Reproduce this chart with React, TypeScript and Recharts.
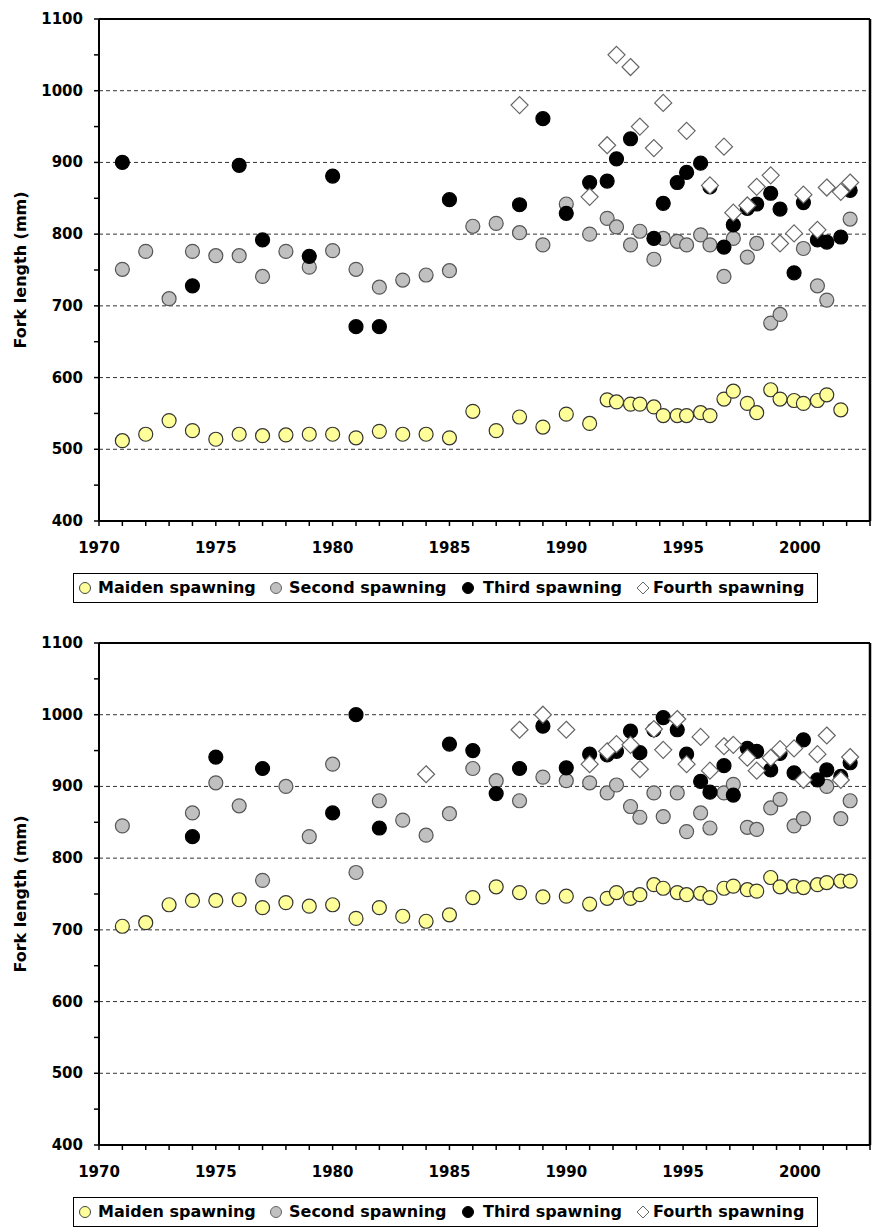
import { ScatterChart, Scatter, XAxis, YAxis, ReferenceLine } from "recharts";

// x positions (years) of every sampling slot; from 1991 on there are two per year
const slots = [
  1971, 1972, 1973, 1974, 1975, 1976, 1977, 1978, 1979, 1980,
  1981, 1982, 1983, 1984, 1985, 1986, 1987, 1988, 1989, 1990, 1991,
  1991.75, 1992.15, 1992.75, 1993.15, 1993.75, 1994.15, 1994.75, 1995.15,
  1995.75, 1996.15, 1996.75, 1997.15, 1997.75, 1998.15, 1998.75, 1999.15,
  1999.75, 2000.15, 2000.75, 2001.15, 2001.75, 2002.15,
];

const _ = null;

// upper panel
const topMaiden = [
  512, 521, 540, 526, 514, 521, 519, 520, 521, 521,
  516, 525, 521, 521, 516, 553, 526, 545, 531, 549, 536,
  569, 566, 563, 563, 559, 547, 547, 547,
  551, 547, 570, 581, 564, 551, 583, 570,
  568, 564, 568, 576, 555, _,
];
const topSecond = [
  751, 776, 710, 776, 770, 770, 741, 776, 754, 777,
  751, 726, 736, 743, 749, 811, 815, 802, 785, 842, 800,
  822, 810, 785, 804, 765, 794, 790, 785,
  799, 785, 741, 794, 768, 787, 676, 688,
  _, 780, 728, 708, _, 821,
];
const topThird = [
  900, _, _, 728, _, 896, 792, _, 769, 881,
  671, 671, _, _, 848, _, _, 841, 961, 829, 872,
  874, 905, 933, _, 794, 843, 872, 886,
  899, 866, 782, 813, 836, 842, 857, 835,
  746, 844, 792, 789, 796, 861,
];
const topFourth = [
  _, _, _, _, _, _, _, _, _, _,
  _, _, _, _, _, _, _, 980, _, _, 852,
  924, 1050, 1033, 950, 920, 983, _, 944,
  _, 868, 922, 830, 840, 866, 882, 787,
  801, 855, 806, 865, 859, 872,
];

// lower panel
const botMaiden = [
  705, 710, 735, 741, 741, 742, 731, 738, 733, 735,
  716, 731, 719, 712, 721, 745, 760, 752, 746, 747, 736,
  744, 752, 744, 749, 763, 758, 752, 749,
  751, 745, 758, 761, 756, 754, 773, 760,
  761, 759, 763, 766, 768, 768,
];
const botSecond = [
  845, _, _, 863, 905, 873, 769, 900, 830, 931,
  780, 880, 853, 832, 862, 925, 908, 880, 913, 908, 905,
  891, 902, 872, 857, 891, 858, 891, 837,
  863, 842, 891, 903, 843, 840, 870, 882,
  845, 855, _, 900, 855, 880,
];
const botThird = [
  _, _, _, 830, 941, _, 925, _, _, 863,
  1000, 842, _, _, 959, 950, 890, 925, 984, 926, 945,
  944, 949, 977, 947, 979, 996, 979, 945,
  907, 892, 929, 888, 953, 949, 923, 946,
  919, 965, 909, 923, 914, 933,
];
const botFourth = [
  _, _, _, _, _, _, _, _, _, _,
  _, _, _, 917, _, _, _, 979, 1000, 979, 931,
  949, 959, 958, 924, 980, 951, 994, 931,
  969, 922, 956, 958, 940, 922, 940, 952,
  953, 909, 945, 971, 909, 941,
];

const yearTicks = Array.from({ length: 34 }, (_, i) => 1970 + i);
const lengthTicks = [400, 450, 500, 550, 600, 650, 700, 750, 800, 850, 900, 950, 1000, 1050, 1100];
const gridLines = [500, 600, 700, 800, 900, 1000];

const FONT = "'DejaVu Sans', Arial, sans-serif";

const toPoints = (vals: (number | null)[]) =>
  slots.map((x, i) => ({ x, y: vals[i] })).filter((d) => d.y != null);

const circleShape = (fill: string, stroke: string) => (p: any) => (
  <circle cx={p.cx} cy={p.cy} r={7} fill={fill} stroke={stroke} strokeWidth={1.2} />
);

const diamondShape = (p: any) => {
  const s = 8.5;
  return (
    <path
      d={`M${p.cx},${p.cy - s} L${p.cx + s},${p.cy} L${p.cx},${p.cy + s} L${p.cx - s},${p.cy} Z`}
      fill="#fff"
      stroke="#666"
      strokeWidth={1.2}
    />
  );
};

const XTick = ({ x, y, payload }: any) => {
  if (payload.value % 5 !== 0 || payload.value > 2000) return <g />;
  return (
    <text x={x} y={y + 20} textAnchor="middle" dominantBaseline="central"
      fontFamily={FONT} fontWeight="bold" fontSize={15} fill="#000">
      {payload.value}
    </text>
  );
};

const YTick = ({ x, y, payload }: any) => {
  if (payload.value % 100 !== 0) return <g />;
  return (
    <text x={x - 9} y={y} textAnchor="end" dominantBaseline="central"
      fontFamily={FONT} fontWeight="bold" fontSize={15} fill="#000">
      {payload.value}
    </text>
  );
};

const YLabel = ({ viewBox }: any) => {
  const cx = viewBox.x + 20;
  const cy = viewBox.y + viewBox.height / 2;
  return (
    <text x={cx} y={cy} transform={`rotate(-90 ${cx} ${cy})`} textAnchor="middle"
      dominantBaseline="central" fontFamily={FONT} fontWeight="bold" fontSize={16} fill="#000">
      Fork length (mm)
    </text>
  );
};

const legendItems = [
  { name: "Maiden spawning", kind: "circle", fill: "#FFFF99", stroke: "#444", mx: 11, tx: 24 },
  { name: "Second spawning", kind: "circle", fill: "#C0C0C0", stroke: "#666", mx: 202, tx: 215 },
  { name: "Third spawning", kind: "circle", fill: "#000", stroke: "#000", mx: 394, tx: 409 },
  { name: "Fourth spawning", kind: "diamond", fill: "#fff", stroke: "#666", mx: 569, tx: 579 },
];

const LegendBox = () => (
  <div
    style={{
      position: "absolute", left: 73, top: 573, width: 745, height: 30,
      border: "1px solid #000", boxSizing: "border-box", background: "#fff",
    }}
  >
    {legendItems.map((it) => (
      <div key={it.name}>
        <svg width={14} height={14} style={{ position: "absolute", left: it.mx - 7, top: 7 }}>
          {it.kind === "circle" ? (
            <circle cx={7} cy={7} r={5.5} fill={it.fill} stroke={it.stroke} strokeWidth={1} />
          ) : (
            <path d="M7,1 L13,7 L7,13 L1,7 Z" fill={it.fill} stroke={it.stroke} strokeWidth={1} />
          )}
        </svg>
        <span
          style={{
            position: "absolute", left: it.tx, top: 0, lineHeight: "28px",
            fontFamily: FONT, fontWeight: "bold", fontSize: 16, color: "#000", whiteSpace: "nowrap",
          }}
        >
          {it.name}
        </span>
      </div>
    ))}
  </div>
);

const Panel = ({ maiden, second, third, fourth, top }: any) => (
  <div style={{ position: "absolute", left: 0, top, width: 876, height: 603 }}>
    <ScatterChart width={876} height={603} margin={{ top: 19, right: 6, bottom: 52, left: 0 }}>
      <XAxis
        type="number" dataKey="x" domain={[1970, 2003]} ticks={yearTicks} interval={0}
        tick={<XTick />} tickSize={5} height={30}
        axisLine={{ stroke: "#000", strokeWidth: 2 }} tickLine={{ stroke: "#000", strokeWidth: 1.5 }}
      />
      <YAxis
        type="number" dataKey="y" domain={[400, 1100]} ticks={lengthTicks} interval={0}
        tick={<YTick />} tickSize={5} width={99}
        axisLine={{ stroke: "#000", strokeWidth: 2 }} tickLine={{ stroke: "#000", strokeWidth: 1.5 }}
        label={<YLabel />}
      />
      {gridLines.map((v) => (
        <ReferenceLine key={v} y={v} stroke="#333" strokeDasharray="4 3" strokeWidth={1} />
      ))}
      <ReferenceLine y={1100} stroke="#000" strokeWidth={2} />
      <ReferenceLine x={2003} stroke="#000" strokeWidth={2.5} />
      <Scatter name="Maiden spawning" data={toPoints(maiden)} shape={circleShape("#FFFF99", "#333")} isAnimationActive={false} />
      <Scatter name="Second spawning" data={toPoints(second)} shape={circleShape("#C0C0C0", "#555")} isAnimationActive={false} />
      <Scatter name="Third spawning" data={toPoints(third)} shape={circleShape("#000", "#000")} isAnimationActive={false} />
      <Scatter name="Fourth spawning" data={toPoints(fourth)} shape={diamondShape} isAnimationActive={false} />
    </ScatterChart>
    <LegendBox />
  </div>
);

export default function App() {
  return (
    <div style={{ position: "absolute", left: 0, top: 0, width: 876, height: 1227, background: "#fff", overflow: "hidden" }}>
      <Panel top={0} maiden={topMaiden} second={topSecond} third={topThird} fourth={topFourth} />
      <Panel top={624} maiden={botMaiden} second={botSecond} third={botThird} fourth={botFourth} />
    </div>
  );
}
